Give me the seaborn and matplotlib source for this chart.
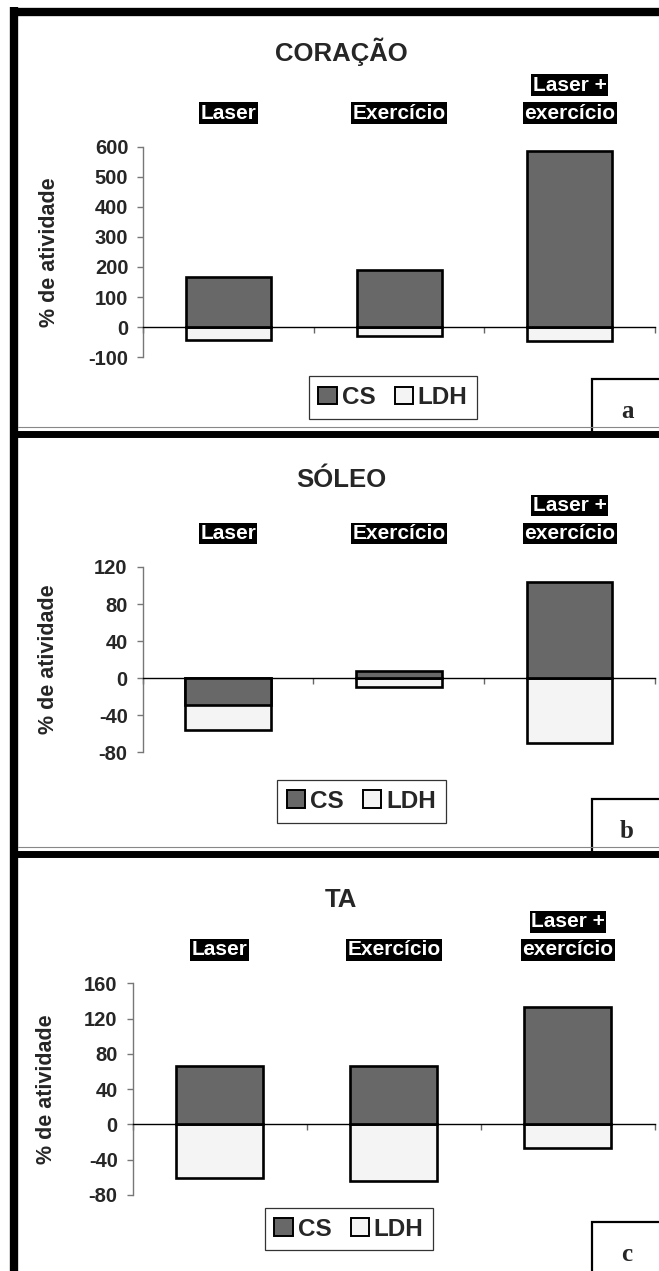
import matplotlib.pyplot as plt
import matplotlib.transforms as mtransforms
import seaborn as sns
import pandas as pd
from matplotlib.patches import Patch, Rectangle
from matplotlib.lines import Line2D


categories = ["Laser", "Exercício", "Laser +\nexercício"]
titles = ["CORAÇÃO", "SÓLEO", "TA"]
panel_letters = ["a", "b", "c"]
series_names = ["CS", "LDH"]

coracao_cs = [168, 190, 587]
coracao_ldh = [-42, -28, -45]
soleo_cs = [-29, 8, 104]
soleo_ldh = [-27, -9, -70]
ta_cs = [66, 66, 133]
ta_ldh = [-61, -64, -27]

coracao_ticks = [-100, 0, 100, 200, 300, 400, 500, 600]
soleo_ticks = [-80, -40, 0, 40, 80, 120]
ta_ticks = [-80, -40, 0, 40, 80, 120, 160]


W, H = 659, 1271
cs_color = "#686868"
ldh_color = "#f4f4f4"

sns.set_theme(style="white")
plt.rcParams["font.family"] = ["Liberation Sans", "DejaVu Sans"]
plt.rcParams["font.weight"] = "bold"
plt.rcParams["axes.unicode_minus"] = False


def fx(x):
    return x / W


def fy(y):
    return 1 - y / H


# pixel layout of each panel
layout = [
    dict(left=143.3, top=146.6, bottom=357.3, title_y=51.5, legend=(393, 397.5),
         ylab_x=50, sep=433.7, box_top=379),
    dict(left=142.7, top=567.0, bottom=752.3, title_y=480, legend=(361.5, 801.3),
         ylab_x=48.5, sep=853.5, box_top=799.3),
    dict(left=132.7, top=983.3, bottom=1195.0, title_y=900, legend=(349, 1229),
         ylab_x=46.5, sep=1275, box_top=1221.7),
]
AX_RIGHT = 655


def stacked_ends(cs, ldh):
    # excel style stacking: same sign values pile up, opposite signs start at 0
    return [c + l if c * l > 0 else l for c, l in zip(cs, ldh)]


def plot_panel(fig, lay, title, letter, cs, ldh, ticks):
    ax = fig.add_axes([fx(lay["left"]), fy(lay["bottom"]),
                       (AX_RIGHT - lay["left"]) / W, (lay["bottom"] - lay["top"]) / H])
    df = pd.DataFrame({"grupo": categories, "CS": cs, "LDH": stacked_ends(cs, ldh)})

    sns.barplot(data=df, x="grupo", y="LDH", color=ldh_color, saturation=1,
                edgecolor="black", linewidth=1.9, width=0.5, ax=ax)
    sns.barplot(data=df, x="grupo", y="CS", color=cs_color, saturation=1,
                edgecolor="black", linewidth=1.9, width=0.5, ax=ax)

    ax.set_xlim(-0.5, len(categories) - 0.5)
    ax.set_ylim(ticks[0], ticks[-1])
    ax.set_yticks(ticks)
    ax.set_xticks([i - 0.5 for i in range(len(categories) + 1)])
    ax.set_xticklabels([])
    ax.set_xlabel("")

    for s in ["top", "right"]:
        ax.spines[s].set_visible(False)
    ax.spines["left"].set_color("#777777")
    ax.spines["left"].set_linewidth(1)
    ax.spines["bottom"].set_position(("data", 0))
    ax.spines["bottom"].set_color("black")
    ax.spines["bottom"].set_linewidth(1)
    ax.tick_params(axis="y", direction="out", left=True, length=4.3, width=1,
                   color="#777777", labelsize=14.5, pad=6.5)
    ax.tick_params(axis="x", direction="out", bottom=True, length=4.3, width=1,
                   color="#666666")
    for t in ax.get_yticklabels():
        t.set_fontweight("bold")

    ax.set_ylabel("% de atividade", fontsize=15.5, fontweight="bold")
    ax.yaxis.label.set_verticalalignment("center")
    ax.yaxis.set_label_coords((lay["ylab_x"] - lay["left"]) / (AX_RIGHT - lay["left"]), 0.5)

    # group labels, white on black boxes, one box per line
    trans = mtransforms.blended_transform_factory(ax.transData, fig.transFigure)
    for i, lab in enumerate(categories):
        for j, line in enumerate(reversed(lab.split("\n"))):
            ax.text(i, fy(lay["top"] - 33.5 - 28 * j), line, transform=trans,
                    ha="center", va="center", color="white", fontsize=15,
                    fontweight="bold",
                    bbox=dict(facecolor="black", edgecolor="none",
                              boxstyle="square,pad=0.07"))

    fig.text(fx(341), fy(lay["title_y"]), title, ha="center", va="center",
             fontsize=18.5, fontweight="bold")

    handles = [Patch(facecolor=cs_color, edgecolor="black", linewidth=1.4),
               Patch(facecolor=ldh_color, edgecolor="black", linewidth=1.4)]
    leg = ax.legend(handles, series_names, loc="center", ncol=2,
                    bbox_to_anchor=(fx(lay["legend"][0]), fy(lay["legend"][1])),
                    bbox_transform=fig.transFigure, fancybox=False, framealpha=1,
                    edgecolor="#333333", fontsize=17.5, handlelength=0.75,
                    handleheight=0.75, handletextpad=0.2, columnspacing=0.8,
                    borderpad=0.4, borderaxespad=0)
    leg.get_frame().set_linewidth(0.9)
    for t in leg.get_texts():
        t.set_fontweight("bold")

    # letter box at the lower right corner
    fig.add_artist(Rectangle((fx(592), fy(lay["sep"])), 80 / W,
                             (lay["sep"] - lay["box_top"]) / H,
                             transform=fig.transFigure, facecolor="white",
                             edgecolor="black", linewidth=1.6))
    fig.text(fx(627), fy(lay["box_top"] + 39), letter, ha="center", va="baseline",
             fontsize=18, fontweight="bold",
             family=["Liberation Serif", "DejaVu Serif"])
    return ax


fig = plt.figure(figsize=(W / 100, H / 100), dpi=100)

data = [(coracao_cs, coracao_ldh, coracao_ticks),
        (soleo_cs, soleo_ldh, soleo_ticks),
        (ta_cs, ta_ldh, ta_ticks)]
for lay, title, letter, (cs, ldh, ticks) in zip(layout, titles, panel_letters, data):
    plot_panel(fig, lay, title, letter, cs, ldh, ticks)

# frame lines of the figure
fig.add_artist(Line2D([fx(10), 1], [fy(11.5), fy(11.5)], color="black", linewidth=6,
                      solid_capstyle="butt", transform=fig.transFigure))
fig.add_artist(Line2D([fx(14), fx(14)], [fy(7.3), 0], color="black", linewidth=6,
                      solid_capstyle="butt", transform=fig.transFigure))
for y in [433.7, 853.5]:
    fig.add_artist(Line2D([fx(18), 1], [fy(y - 6.3), fy(y - 6.3)], color="#888888",
                          linewidth=0.8, transform=fig.transFigure))
    fig.add_artist(Line2D([fx(14), 1], [fy(y), fy(y)], color="black", linewidth=5,
                          solid_capstyle="butt", transform=fig.transFigure))

fig.savefig("out.png", dpi=100)
